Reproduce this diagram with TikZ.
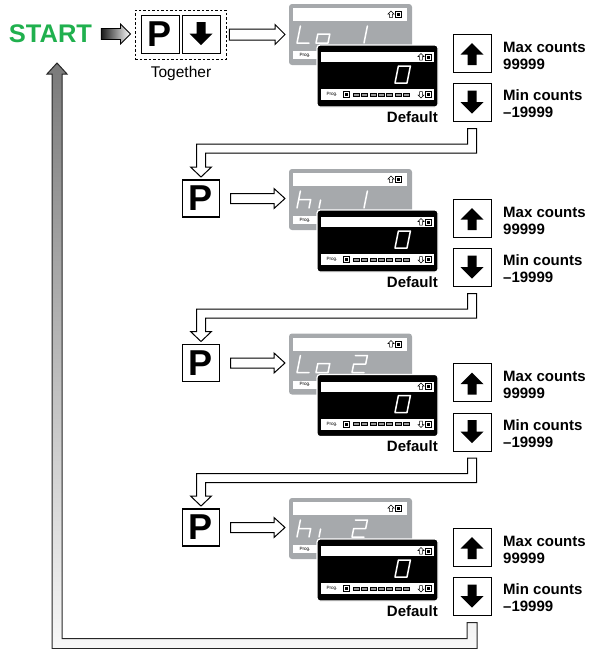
\documentclass[tikz,border=0pt]{standalone}
\usepackage{fontspec}
\setmainfont{Liberation Sans}
\usetikzlibrary{calc}

\definecolor{startgreen}{RGB}{32,176,78}
\definecolor{lcdgray}{RGB}{166,169,172}
\definecolor{retdark}{RGB}{122,122,122}
\definecolor{retlight}{RGB}{248,248,248}
\definecolor{cellgray}{RGB}{150,150,150}

\tikzset{
  btn/.style={draw=black, line width=1pt, fill=white, minimum size=38pt,
    inner sep=0pt, outer sep=0pt},
  pbtn/.style={btn, minimum size=37pt, line width=1.2pt,
    font=\fontsize{36}{36}\selectfont\bfseries},
  hollow/.style={draw=black, line width=1pt, fill=white, line join=miter},
  retarrow/.style={draw=black!85, line width=1pt, top color=retdark,
    bottom color=retlight, line join=miter},
  startarrow/.style={draw=black, line width=0.8pt, left color=black!90,
    right color=white, line join=miter},
  lbl/.style={font=\fontsize{15}{17}\selectfont\bfseries, inner sep=0pt,
    align=left},
  prog/.style={font=\fontsize{4.6}{5}\selectfont, inner sep=0pt},
  graylcd/.style={fill=lcdgray, rounded corners=3pt, minimum width=123pt,
    minimum height=61pt, anchor=north west, inner sep=0pt, outer sep=0pt},
  blacklcd/.style={fill=black, draw=white, line width=1.2pt,
    rounded corners=3pt, minimum width=121pt, minimum height=62pt,
    anchor=north west, inner sep=0pt, outer sep=0pt},
  segs/.style={draw=white, line width=1.5pt, line join=round,
    line cap=round, xslant=0.2},
  % seven-segment glyphs, origin at the lower left corner
  sevL/.pic={\draw[segs] (0,-17) -- (0,0) -- (12,0);},
  sevo/.pic={\draw[segs] (0,-9) -- (12,-9) -- (12,0) -- (0,0) -- cycle;},
  sevh/.pic={\draw[segs] (0,-17) -- (0,0) (0,-8.5) -- (12,-8.5) -- (12,0);},
  sevi/.pic={\draw[segs] (3,-8) -- (3,0);},
  sevone/.pic={\draw[segs] (12,-17) -- (12,0);},
  sevtwo/.pic={\draw[segs] (0,-17) -- (12,-17) -- (12,-8.5) -- (0,-8.5)
    -- (0,0) -- (12,0);},
  sevzero/.pic={\draw[segs] (0,-17) -- (12,-17) -- (12,0) -- (0,0) -- cycle;},
  % small status icons of the LCD
  upicon/.pic={
    \draw[line width=0.5pt, fill=white, line join=miter] (0,-3.5) -- (3,-0.5)
      -- (1.3,-0.5) -- (1.3,3) -- (-1.3,3) -- (-1.3,-0.5) -- (-3,-0.5) -- cycle;
    \draw[line width=0.5pt] (4.5,-3) rectangle (10.5,3);
    \fill (6,-1.5) rectangle (9,1.5);},
  downicon/.pic={
    \draw[line width=0.5pt, fill=white, line join=miter] (0,3.5) -- (3,0.5)
      -- (1.3,0.5) -- (1.3,-3) -- (-1.3,-3) -- (-1.3,0.5) -- (-3,0.5) -- cycle;
    \draw[line width=0.5pt] (4.5,-3) rectangle (10.5,3);
    \fill (6,-1.5) rectangle (9,1.5);},
  % solid arrows printed on the keys
  keyup/.pic={\fill (0,-10) -- (11.5,1.5) -- (4.5,1.5) -- (4.5,12)
    -- (-4.5,12) -- (-4.5,1.5) -- (-11.5,1.5) -- cycle;},
  keydown/.pic={\fill (0,11) -- (11.5,-0.5) -- (4.5,-0.5) -- (4.5,-12)
    -- (-4.5,-12) -- (-4.5,-0.5) -- (-11.5,-0.5) -- cycle;},
}

% straight block arrow pointing right: [style]{from}{to}{body half}{head half}{head length}
\newcommand\flatarrow[6][hollow]{%
  \path[#1] let \p1=(#2), \p2=(#3) in
    (\x1,\y1+#4) -- (\x2-#6,\y1+#4) -- (\x2-#6,\y1+#5) -- (\x2,\y1)
    -- (\x2-#6,\y1-#5) -- (\x2-#6,\y1-#4) -- (\x1,\y1-#4) -- cycle;}

% hollow arrow: down, left, then down onto the next key
\newcommand\turnarrow[3]{%
  \path[hollow] let \p1=(#1), \p2=(#2), \p3=($(#1)+(0,#3)$) in
    (\x1+4.5pt,\y1) -- (\x1+4.5pt,\y3-4.5pt) -- (\x2+4.5pt,\y3-4.5pt)
    -- (\x2+4.5pt,\y2+10pt) -- (\x2+10.5pt,\y2+10pt) -- (\x2,\y2)
    -- (\x2-10.5pt,\y2+10pt) -- (\x2-4.5pt,\y2+10pt) -- (\x2-4.5pt,\y3+4.5pt)
    -- (\x1-4.5pt,\y3+4.5pt) -- (\x1-4.5pt,\y1) -- cycle;}

% shaded arrow: down, left, then all the way up
\newcommand\returnarrow[3]{%
  \path[retarrow] let \p1=(#1), \p2=(#2), \p3=($(#1)+(0,#3)$) in
    (\x1+5pt,\y1) -- (\x1+5pt,\y3-5pt) -- (\x2-5pt,\y3-5pt) -- (\x2-5pt,\y2-11pt)
    -- (\x2-10pt,\y2-11pt) -- (\x2,\y2) -- (\x2+10pt,\y2-11pt)
    -- (\x2+5pt,\y2-11pt) -- (\x2+5pt,\y3+5pt) -- (\x1-5pt,\y3+5pt)
    -- (\x1-5pt,\y1) -- cycle;}

% one programming step: the two LCDs, the keys and their captions
\newcommand\meterrow[2]{%
  \node[graylcd] (g#1) at (289,4) {};
  \fill[white] (293,8) rectangle (407,21);
  \pic at (391,14.5) {upicon};
  \fill[white] (293,51) rectangle (330,59);
  \node[prog] (gp#1) at (305,55) {Prog.};
  #2
  \node[blacklcd] (b#1) at (317,45) {};
  \fill[white] (321,52) rectangle (434,62);
  \pic at (421,57) {upicon};
  \fill[white] (321,89) rectangle (434,100);
  \node[prog] (bp#1) at (332,94.5) {Prog.};
  \draw[line width=0.5pt] (343,91.5) rectangle (349,97.5);
  \fill (344.5,93) rectangle (347.5,96);
  \foreach \i in {0,...,6}
    \draw[line width=0.4pt, fill=cellgray] ({353+8.4*\i},93) rectangle ++(6,3);
  \pic at (421,94.5) {downicon};
  \pic at (395,83) {sevzero};
  \node[lbl, anchor=east] (def#1) at (438,117) {Default};
  \node[btn] (up#1) at (472,53) {};
  \pic at (up#1) {keyup};
  \node[btn] (dn#1) at (472,102.5) {};
  \pic at (dn#1) {keydown};
  \node[lbl, anchor=west] (max#1) at (503,55.7) {Max counts\\99999};
  \node[lbl, anchor=west] (min#1) at (503,103.7) {Min counts\\–19999};
}

\begin{document}
\begin{tikzpicture}[x=1pt, y=-1pt]
\useasboundingbox (0,0) rectangle (591,649);

% entry: START, then P and Down pressed together
\node[font=\fontsize{25.5}{26}\selectfont\bfseries, text=startgreen,
  inner sep=0pt] (start) at (50.5,34) {START};
\node[draw=black, dash pattern=on 2.5pt off 2pt, line width=0.9pt,
  minimum width=91pt, minimum height=49pt, inner sep=0pt] (together)
  at (180.5,34.5) {};
\node[btn, font=\fontsize{36}{36}\selectfont\bfseries] (ptop) at (160,34) {P};
\node[btn] (dtop) at (201,34) {};
\pic at (dtop) {keydown};
\node[font=\fontsize{15.5}{16}\selectfont, inner sep=0pt] (togtxt)
  at (181,73) {Together};
\flatarrow[startarrow]{$(start.east)+(9,0)$}{$(together.west)+(-4,0)$}{5.5pt}{10pt}{10pt}

% step 1: Lo 1
\meterrow{1}{%
  \pic at (297,43) {sevL};
  \pic at (316,43) {sevo};
  \pic at (352,43) {sevone};}
\flatarrow{$(together.east)+(3,0)$}{$(g1.west)+(-4,0)$}{5.5pt}{10pt}{10pt}

% step 2: hi 1
\begin{scope}[shift={(0,165)}]
  \node[pbtn] (p2) at (201,33.5) {P};
  \meterrow{2}{%
    \pic at (297,43) {sevh};
    \pic at (316,43) {sevi};
    \pic at (352,43) {sevone};}
  \flatarrow{$(p2.east)+(11,0)$}{$(g2.west)+(-4,0)$}{5pt}{10pt}{11pt}
\end{scope}

% step 3: Lo 2
\begin{scope}[shift={(0,329.5)}]
  \node[pbtn] (p3) at (201,33.5) {P};
  \meterrow{3}{%
    \pic at (297,43) {sevL};
    \pic at (316,43) {sevo};
    \pic at (352,43) {sevtwo};}
  \flatarrow{$(p3.east)+(11,0)$}{$(g3.west)+(-4,0)$}{5pt}{10pt}{11pt}
\end{scope}

% step 4: hi 2
\begin{scope}[shift={(0,494)}]
  \node[pbtn] (p4) at (201,33.5) {P};
  \meterrow{4}{%
    \pic at (297,43) {sevh};
    \pic at (316,43) {sevi};
    \pic at (352,43) {sevtwo};}
  \flatarrow{$(p4.east)+(11,0)$}{$(g4.west)+(-4,0)$}{5pt}{10pt}{11pt}
\end{scope}

% links from each step to the next
\coordinate (s1) at ($(dn1.south)+(0,7)$);
\coordinate (t2) at ($(p2.north)+(0,-3)$);
\coordinate (s2) at ($(dn2.south)+(0,7)$);
\coordinate (t3) at ($(p3.north)+(0,-3)$);
\coordinate (s3) at ($(dn3.south)+(0,7)$);
\coordinate (t4) at ($(p4.north)+(0,-3)$);
\turnarrow{s1}{t2}{20}
\turnarrow{s2}{t3}{20}
\turnarrow{s3}{t4}{20}

% back to START
\coordinate (s4) at ($(dn4.south)+(0,7)$);
\coordinate (ret) at (57,63);
\returnarrow{s4}{ret}{21}
\end{tikzpicture}
\end{document}
